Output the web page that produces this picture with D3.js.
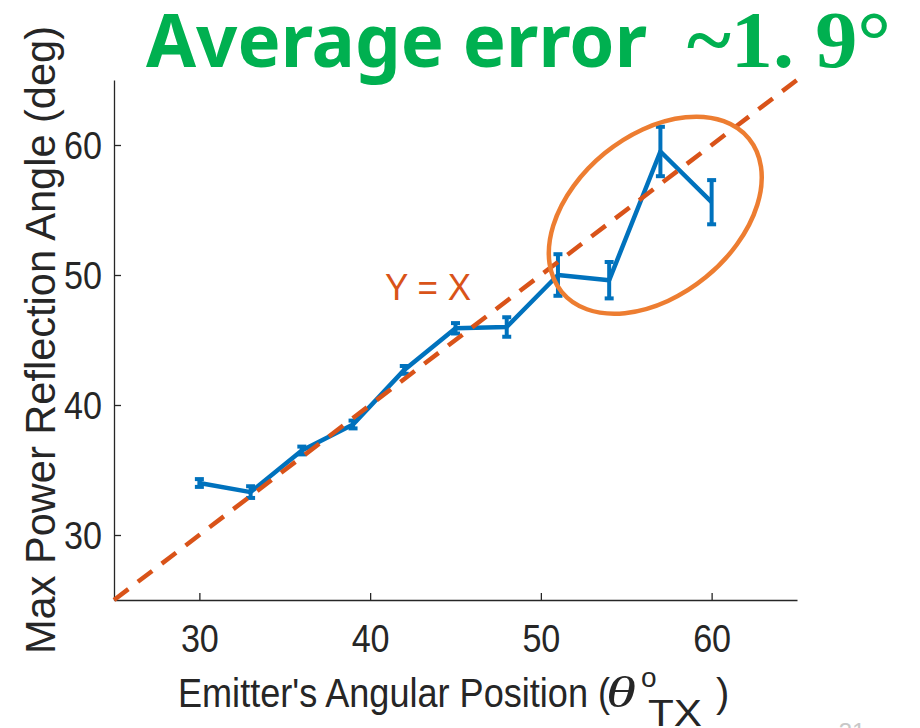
<!DOCTYPE html>
<html>
<head>
<meta charset="utf-8">
<script src="https://cdn.jsdelivr.net/npm/d3@7"></script>
<style>
  html, body { margin: 0; padding: 0; background: #fff; }
  svg { display: block; }
</style>
</head>
<body>
<svg id="chart" width="920" height="728"></svg>
<script>
// Emitter angular position (deg)
const emitterAngles = [30, 33, 36, 39, 42, 45, 48, 51, 54, 57, 60];
// Mean angle of maximum reflected power (deg)
const reflectionMeans = [34.0, 33.3, 36.5, 38.5, 42.7, 45.9, 46.0, 50.0, 49.6, 59.5, 55.6];
// Half-width of the error bars (deg)
const reflectionErrors = [0.3, 0.45, 0.3, 0.3, 0.3, 0.4, 0.75, 1.6, 1.4, 1.9, 1.7];
// Axis ticks
const xTicks = [30, 40, 50, 60];
const yTicks = [30, 40, 50, 60];
const axisDomain = [25, 65];

const titleMain = "Average error";
const titleValue = "~1. 9°";

const svg = d3.select("#chart");

const x = d3.scaleLinear().domain(axisDomain).range([114, 797]);
const y = d3.scaleLinear().domain(axisDomain).range([600, 80]);

const axisColor = "#262626";
const blue = "#0072BD";
const red = "#D95319";
const orange = "#ED7D31";
const sans = "'Liberation Sans', Arial, Helvetica, sans-serif";
const serif = "'Liberation Serif', 'DejaVu Serif', serif";

// Axes (left and bottom only, ticks pointing inward)
const xAxis = d3.axisBottom(x).tickValues(xTicks).tickSizeInner(-7).tickSizeOuter(0).tickFormat(d3.format("d"));
const yAxis = d3.axisLeft(y).tickValues(yTicks).tickSizeInner(-7).tickSizeOuter(0).tickFormat(d3.format("d"));

const gx = svg.append("g").attr("transform", `translate(0,${y(axisDomain[0])})`).call(xAxis);
const gy = svg.append("g").attr("transform", `translate(${x(axisDomain[0])},0)`).call(yAxis);

[gx, gy].forEach(g => {
  g.select(".domain").attr("stroke", axisColor).attr("stroke-width", 1.3);
  g.selectAll(".tick line").attr("stroke", axisColor).attr("stroke-width", 1.3);
  g.selectAll(".tick text")
    .attr("fill", axisColor)
    .style("font-family", sans)
    .style("font-size", "38px")
    .attr("textLength", 38)
    .attr("lengthAdjust", "spacingAndGlyphs");
});
gx.selectAll(".tick text").attr("y", 25).attr("dy", "0.71em");
gy.selectAll(".tick text").attr("x", -12).attr("dy", "0.36em");

// Axis titles
const xLabel = svg.append("g")
  .attr("fill", axisColor)
  .style("font-family", sans);
xLabel.append("text")
  .attr("x", 178).attr("y", 707)
  .style("font-size", "40px")
  .attr("textLength", 432).attr("lengthAdjust", "spacingAndGlyphs")
  .text("Emitter's Angular Position (");
xLabel.append("text")
  .attr("x", 606).attr("y", 707)
  .style("font-size", "44px")
  .style("font-family", serif)
  .style("font-style", "italic")
  .attr("textLength", 30).attr("lengthAdjust", "spacingAndGlyphs")
  .text("θ");
xLabel.append("text")
  .attr("x", 641).attr("y", 687)
  .style("font-size", "28px")
  .text("o");
xLabel.append("text")
  .attr("x", 648).attr("y", 726)
  .style("font-size", "36px")
  .attr("textLength", 54).attr("lengthAdjust", "spacingAndGlyphs")
  .text("TX");
xLabel.append("text")
  .attr("x", 716).attr("y", 707)
  .style("font-size", "40px")
  .text(")");

svg.append("text")
  .attr("transform", "translate(55,340) rotate(-90)")
  .attr("text-anchor", "middle")
  .attr("fill", axisColor)
  .style("font-family", sans)
  .style("font-size", "42px")
  .attr("textLength", 628)
  .attr("lengthAdjust", "spacingAndGlyphs")
  .text("Max Power Reflection Angle (deg)");

// Measured series
const points = emitterAngles.map((a, i) => ({ a, m: reflectionMeans[i], e: reflectionErrors[i] }));

svg.append("path")
  .datum(points)
  .attr("fill", "none")
  .attr("stroke", blue)
  .attr("stroke-width", 4.5)
  .attr("stroke-linejoin", "round")
  .attr("d", d3.line().x(d => x(d.a)).y(d => y(d.m)));

const capHalf = 4.5;
const bars = svg.append("g").attr("stroke", blue).attr("stroke-width", 4).attr("fill", "none");
bars.selectAll("line.stem").data(points).join("line")
  .attr("class", "stem")
  .attr("x1", d => x(d.a)).attr("x2", d => x(d.a))
  .attr("y1", d => y(d.m + d.e)).attr("y2", d => y(d.m - d.e));
bars.selectAll("line.capTop").data(points).join("line")
  .attr("class", "capTop")
  .attr("x1", d => x(d.a) - capHalf).attr("x2", d => x(d.a) + capHalf)
  .attr("y1", d => y(d.m + d.e)).attr("y2", d => y(d.m + d.e));
bars.selectAll("line.capBot").data(points).join("line")
  .attr("class", "capBot")
  .attr("x1", d => x(d.a) - capHalf).attr("x2", d => x(d.a) + capHalf)
  .attr("y1", d => y(d.m - d.e)).attr("y2", d => y(d.m - d.e));

// Reference line Y = X
svg.append("line")
  .attr("x1", x(axisDomain[0])).attr("y1", y(axisDomain[0]))
  .attr("x2", x(axisDomain[1])).attr("y2", y(axisDomain[1]))
  .attr("stroke", red)
  .attr("stroke-width", 4.5)
  .attr("stroke-dasharray", "18,12");

svg.append("text")
  .attr("x", 385).attr("y", 300)
  .attr("fill", red)
  .style("font-family", sans)
  .style("font-size", "37px")
  .attr("textLength", 86)
  .attr("lengthAdjust", "spacingAndGlyphs")
  .text("Y = X");

// Highlight around the high-angle points
svg.append("ellipse")
  .attr("transform", `translate(${x(56.7)},${y(54.6)}) rotate(-39.3)`)
  .attr("rx", 121).attr("ry", 80)
  .attr("fill", "none")
  .attr("stroke", orange)
  .attr("stroke-width", 4.5);

// Headline
svg.append("text")
  .attr("x", 146).attr("y", 67)
  .attr("fill", "#00B050")
  .style("font-family", "'Noto Sans', 'Open Sans', sans-serif")
  .style("font-weight", "bold")
  .style("font-size", "73px")
  .attr("textLength", 501)
  .attr("lengthAdjust", "spacingAndGlyphs")
  .text(titleMain);

svg.append("text")
  .attr("x", 687).attr("y", 67)
  .attr("fill", "#00B050")
  .style("font-family", serif)
  .style("font-weight", "bold")
  .style("font-size", "80px")
  .attr("textLength", 204)
  .attr("lengthAdjust", "spacingAndGlyphs")
  .text(titleValue);

// Slide number
svg.append("text")
  .attr("x", 852).attr("y", 740)
  .attr("text-anchor", "middle")
  .attr("fill", "#c8c8c8")
  .style("font-family", sans)
  .style("font-size", "24px")
  .text("31");
</script>
</body>
</html>
